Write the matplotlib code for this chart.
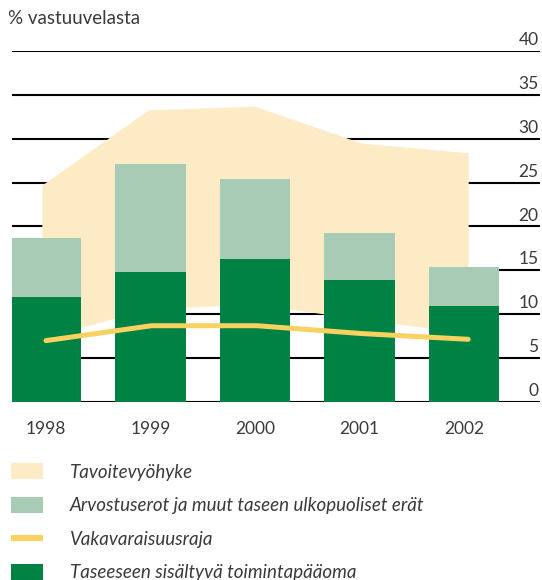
import numpy as np
import matplotlib
matplotlib.use("Agg")
import matplotlib.pyplot as plt
from matplotlib.patches import Patch
from matplotlib.lines import Line2D

plt.rcParams['font.family'] = ['Lato', 'DejaVu Sans']

# data (% vastuuvelasta)
years = ['1998', '1999', '2000', '2001', '2002']
toimintapaaoma = [11.9, 14.8, 16.3, 13.9, 10.95]     # dark green
arvostuserot = [6.8, 12.3, 9.1, 5.3, 4.35]          # light green, stacked
vakavaraisuusraja = [6.95, 8.65, 8.65, 7.75, 7.1]   # yellow line
tavoite_ala = [7.2, 10.6, 11.1, 9.4, 7.8]           # target zone lower edge
tavoite_yla = [24.7, 33.3, 33.7, 29.5, 28.4]        # target zone upper edge
yticks = [0, 5, 10, 15, 20, 25, 30, 35, 40]

c_zone = '#fdebc6'
c_light = '#a8cbb6'
c_dark = '#008245'
c_line = '#f9d15e'
c_text = '#3a3a3a'

W, H = 542, 580
fig = plt.figure(figsize=(W / 100, H / 100), dpi=100)
ax = fig.add_axes([12 / W, (H - 401.5) / H, 528 / W, 350.4 / H])

x = np.arange(len(years))
x_zone = x * 1.02 - 0.04
x_line = x * 1.01

for t in yticks:
    ax.axhline(t, color='black', lw=1.5, zorder=1)
    ax.annotate(str(t), xy=(1, t), xycoords=('axes fraction', 'data'),
                xytext=(-1, 2), textcoords='offset points',
                ha='right', va='bottom', fontsize=12.5, color=c_text)

ax.fill_between(x_zone, tavoite_ala, tavoite_yla, color=c_zone, lw=0, zorder=2)
ax.bar(x, toimintapaaoma, width=0.67, color=c_dark, zorder=3)
ax.bar(x, arvostuserot, width=0.67, bottom=toimintapaaoma, color=c_light, zorder=3)
ax.plot(x_line, vakavaraisuusraja, color=c_line, lw=3.6,
        solid_capstyle='round', solid_joinstyle='round', zorder=4)

ax.set_xlim((12 - 46) / 104.5, (540 - 46) / 104.5)
ax.set_ylim(0, 40)
ax.set_yticks([])
ax.set_xticks(x)
ax.set_xticklabels(years, fontsize=12.5, color=c_text)
ax.tick_params(axis='x', length=0, pad=14)
for s in ax.spines.values():
    s.set_visible(False)

fig.text(8 / W, 1 - 18 / H, '% vastuuvelasta', fontsize=13.5, color=c_text, va='center')

handles = [
    Patch(facecolor=c_zone, edgecolor='none'),
    Patch(facecolor=c_light, edgecolor='none'),
    Line2D([], [], color=c_line, lw=4.3, solid_capstyle='butt'),
    Patch(facecolor=c_dark, edgecolor='none'),
]
labels = ['Tavoitevyöhyke',
          'Arvostuserot ja muut taseen ulkopuoliset erät',
          'Vakavaraisuusraja',
          'Taseeseen sisältyvä toimintapääoma']
leg = fig.legend(handles, labels, loc='upper left',
                 bbox_to_anchor=(2 / W, 1 - 454 / H), frameon=False,
                 fontsize=13.5, handlelength=1.7, handleheight=0.9,
                 handletextpad=1.4, labelspacing=0.87, borderpad=0)
for t in leg.get_texts():
    t.set_fontstyle('italic')
    t.set_color(c_text)

fig.savefig('out.png', dpi=100)
